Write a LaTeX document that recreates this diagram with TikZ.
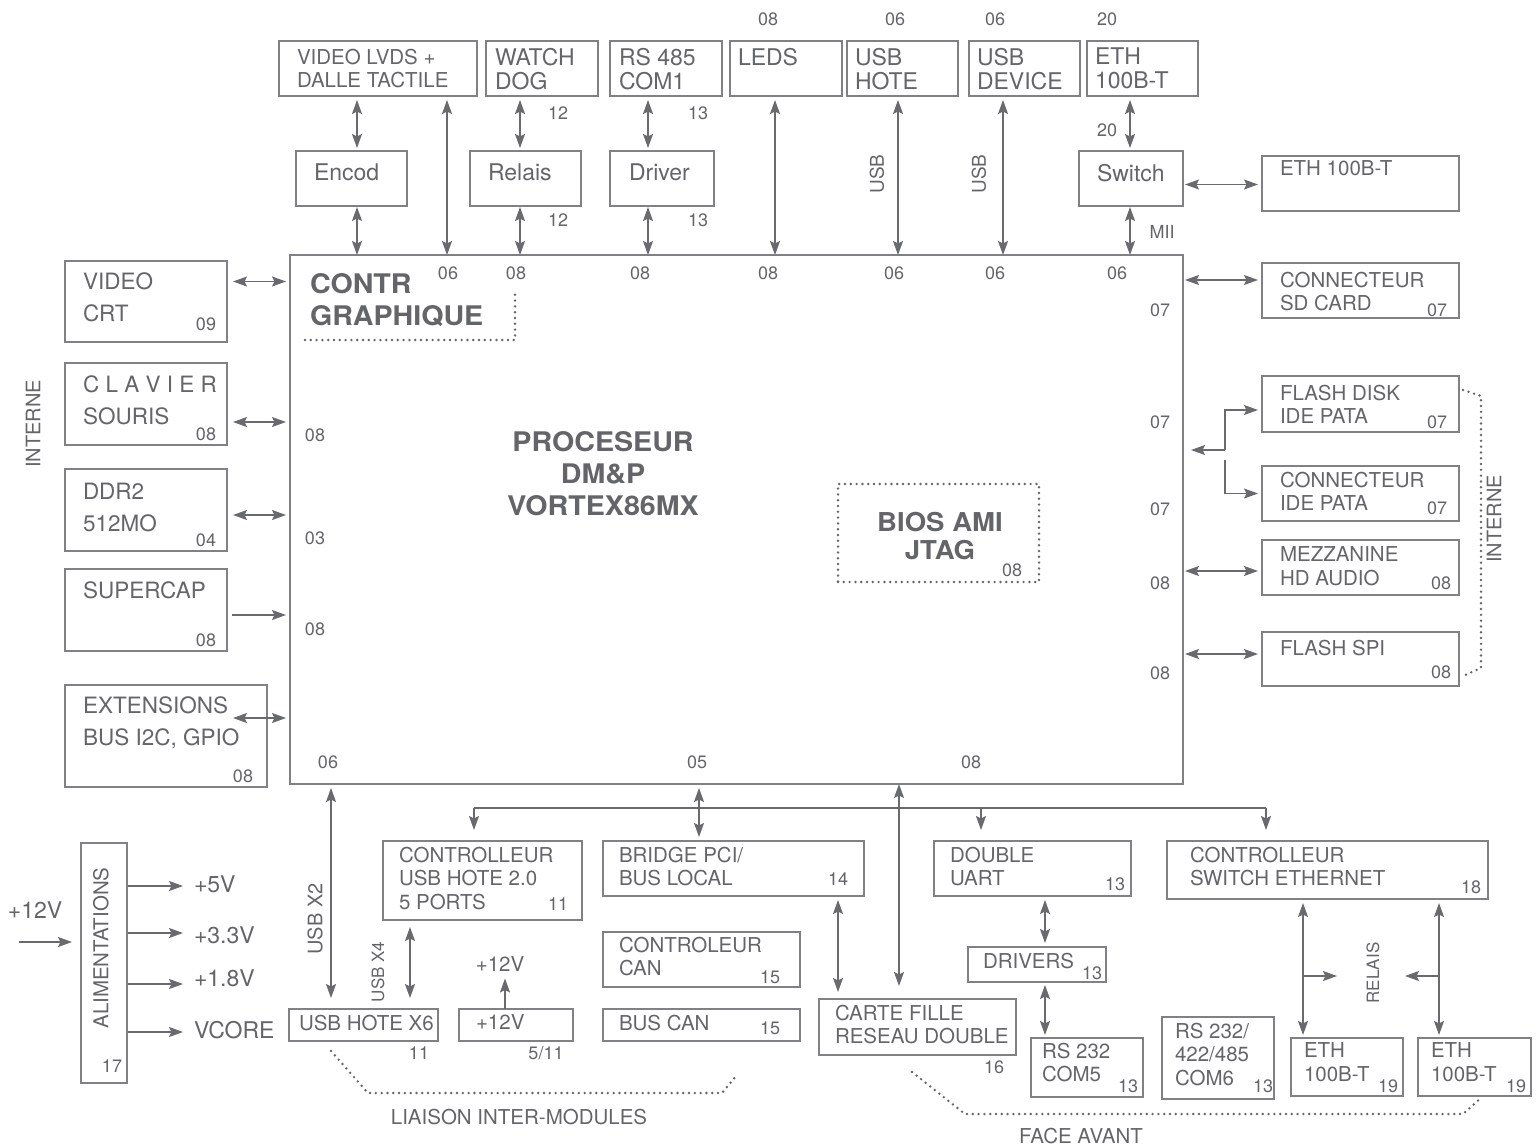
\documentclass[tikz,border=0pt]{standalone}
\usepackage{fontspec}
\setmainfont{TeX Gyre Heros}
\newfontfamily\bfont[FakeStretch=1.06]{TeX Gyre Heros}
\usetikzlibrary{arrows.meta,calc}
\definecolor{txtc}{RGB}{100,101,105}
\definecolor{boxc}{RGB}{128,129,133}
\definecolor{arrc}{RGB}{105,106,110}
\newcommand\bx[5]{\node[box,minimum width=#4pt,minimum height=#5pt] (#1) at (#2,#3) {};}
\begin{document}
\begin{tikzpicture}[x=1pt,y=-1pt,
  box/.style={draw=boxc,line width=1.3pt,inner sep=0pt,outer sep=0pt,anchor=north west},
  dbox/.style={draw=txtc,line width=2.7pt,line cap=round,dash pattern=on 0pt off 5.8pt,inner sep=0pt,outer sep=0pt,anchor=north west},
  lbl/.style={text=txtc,inner sep=0pt,outer sep=0pt,align=left,anchor=north west,font=\fontsize{20.5}{23.5}\selectfont},
  lbla/.style={lbl,font=\fontsize{23}{24}\selectfont},
  lblb/.style={lbl,font=\fontsize{22.5}{32}\selectfont},
  lblc/.style={text=txtc,inner sep=0pt,outer sep=0pt,font=\fontsize{23}{24}\selectfont},
  num/.style={text=txtc,inner sep=0pt,font=\fontsize{18}{20}\selectfont},
  vlbl/.style={text=txtc,inner sep=0pt,rotate=90,font=\fontsize{20}{22}\selectfont},
  big/.style={text=txtc,inner sep=0pt,outer sep=0pt,font=\bfont\bfseries\fontsize{27}{32}\selectfont},
  ln/.style={draw=arrc,line width=1.4pt},
  bi/.style={ln,{Stealth[length=14pt,width=10pt,inset=2.5pt]}-{Stealth[length=14pt,width=10pt,inset=2.5pt]}},
  one/.style={ln,-{Stealth[length=14pt,width=10pt,inset=2.5pt]}},
  dots/.style={draw=txtc,line width=2.7pt,line cap=round,dash pattern=on 0pt off 5.8pt},
]
\useasboundingbox (0,0) rectangle (1538,1146);

% ---------- boxes ----------
\bx{lvds}{279}{41}{198}{55}
\bx{wd}{486}{41}{112}{55}
\bx{rs}{610}{41}{112}{55}
\bx{leds}{730}{41}{112}{55}
\bx{usbh}{847}{41}{111}{55}
\bx{usbd}{969}{41}{111}{55}
\bx{eth}{1087}{41}{111}{55}
\bx{encod}{296}{151}{111}{55}
\bx{relais}{470}{151}{111}{55}
\bx{driver}{610}{151}{104}{55}
\bx{switch}{1079}{151}{104}{55}
\bx{ethr}{1262}{156}{197}{55}
\bx{sd}{1262}{263}{197}{55}
\bx{fdisk}{1262}{376}{197}{56}
\bx{ide}{1262}{466}{197}{55}
\bx{mezz}{1262}{540}{197}{55}
\bx{fspi}{1262}{632}{197}{54}
\bx{vcrt}{65}{261}{162}{81}
\bx{clav}{65}{363}{162}{82}
\bx{ddr}{65}{469}{162}{82}
\bx{scap}{65}{569}{162}{82}
\bx{ext}{65}{685}{202}{102}
\bx{cpu}{290}{255}{893}{529}
\bx{alim}{81}{843}{46}{240}
\bx{usbx}{289}{1009}{149}{32}
\bx{cusb}{383}{841}{199}{79}
\bx{p12}{459}{1009}{114}{32}
\bx{bridge}{603}{841}{261}{55}
\bx{ccan}{603}{932}{197}{55}
\bx{bcan}{603}{1009}{197}{32}
\bx{carte}{819}{999}{197}{56}
\bx{duart}{934}{841}{197}{55}
\bx{drv}{968}{947}{138}{35}
\bx{com5}{1031}{1038}{112}{59}
\bx{com6}{1162}{1017}{112}{82}
\bx{csw}{1167}{841}{321}{58}
\bx{ethA}{1291}{1038}{112}{58}
\bx{ethB}{1418}{1038}{113}{58}
\node[dbox,minimum width=201pt,minimum height=98pt] (bios) at (838,484) {};

% ---------- box texts ----------
\node[lbl] (t-lvds) at (297,49) {VIDEO LVDS +\\DALLE TACTILE};
\node[lbla] (t-wd) at (495,48) {WATCH\\DOG};
\node[lbla] (t-rs) at (619,48) {RS 485\\COM1};
\node[lbla] (t-leds) at (738,48) {LEDS};
\node[lbla] (t-usbh) at (855,48) {USB\\HOTE};
\node[lbla] (t-usbd) at (977,48) {USB\\DEVICE};
\node[lbla] (t-eth) at (1095,48) {ETH\\100B-T};
\node[lbla] (t-encod) at (314,164) {Encod};
\node[lbla] (t-relais) at (488,164) {Relais};
\node[lbla] (t-driver) at (629,164) {Driver};
\node[lbla] (t-switch) at (1097,164) {Switch};
\node[lbl] (t-ethr) at (1280,161) {ETH 100B-T};
\node[lbl] (t-sd) at (1280,272) {CONNECTEUR\\SD CARD};
\node[lbl] (t-fdisk) at (1280,385) {FLASH DISK\\IDE PATA};
\node[lbl] (t-ide) at (1280,472) {CONNECTEUR\\IDE PATA};
\node[lbl] (t-mezz) at (1280,547) {MEZZANINE\\HD AUDIO};
\node[lbl] (t-fspi) at (1280,640) {FLASH SPI};
\node[lblb] (t-vcrt) at (83,273) {VIDEO\\CRT};
\node[lblb] (t-clav) at (83,376) {C L A V I E R\\SOURIS};
\node[lblb] (t-ddr) at (83,483) {DDR2\\512MO};
\node[lblb] (t-scap) at (83,582) {SUPERCAP};
\node[lblb] (t-ext) at (83,697) {EXTENSIONS\\BUS I2C, GPIO};
\node[lbl] (t-cusb) at (399,847) {CONTROLLEUR\\USB HOTE 2.0\\5 PORTS};
\node[lbl] (t-bridge) at (619,847) {BRIDGE PCI/\\BUS LOCAL};
\node[lbl] (t-ccan) at (619,937) {CONTROLEUR\\CAN};
\node[lbl] (t-bcan) at (619,1015) {BUS CAN};
\node[lbl] (t-p12) at (476,1015) {+12V};
\node[lbl] (t-usbx) at (299,1015) {USB HOTE X6};
\node[lbl] (t-carte) at (835,1005) {CARTE FILLE\\RESEAU DOUBLE};
\node[lbl] (t-duart) at (950,847) {DOUBLE\\UART};
\node[lbl] (t-drv) at (983,953) {DRIVERS};
\node[lbl] (t-com5) at (1042,1043) {RS 232\\COM5};
\node[lbl] (t-com6) at (1175,1023) {RS 232/\\422/485\\COM6};
\node[lbl] (t-csw) at (1190,847) {CONTROLLEUR\\SWITCH ETHERNET};
\node[lbl] (t-ethA) at (1304,1043) {ETH\\100B-T};
\node[lbl] (t-ethB) at (1431,1043) {ETH\\100B-T};

% bold texts
\node[big,anchor=north west,align=left] (t-contr) at (310,273) {CONTR\\GRAPHIQUE};
\node[big,anchor=north,align=center] (t-proc) at (603,431) {PROCESEUR\\DM\&P\\VORTEX86MX};
\node[big,anchor=north,align=center,font=\bfont\bfseries\fontsize{26}{28}\selectfont] (t-bios) at (940,512) {BIOS AMI\\JTAG};

% ---------- numbers ----------
\node[num] (n1) at (768,19) {08};
\node[num] (n2) at (895,19) {06};
\node[num] (n3) at (995,19) {06};
\node[num] (n4) at (1107,19) {20};
\node[num] (n5) at (558,113) {12};
\node[num] (n6) at (558,220) {12};
\node[num] (n7) at (698,113) {13};
\node[num] (n8) at (698,220) {13};
\node[num] (n9) at (1107,130) {20};
\node[num] (n10) at (1162,232) {MII};
\node[num] (c1) at (448,273) {06};
\node[num] (c2) at (516,273) {08};
\node[num] (c3) at (640,273) {08};
\node[num] (c4) at (768,273) {08};
\node[num] (c5) at (894,273) {06};
\node[num] (c6) at (995,273) {06};
\node[num] (c7) at (1117,273) {06};
\node[num] (c8) at (1160,310) {07};
\node[num] (c9) at (1160,422) {07};
\node[num] (c10) at (1160,509) {07};
\node[num] (c11) at (1160,583) {08};
\node[num] (c12) at (1160,673) {08};
\node[num] (c13) at (315,435) {08};
\node[num] (c14) at (315,538) {03};
\node[num] (c15) at (315,629) {08};
\node[num] (c16) at (328,762) {06};
\node[num] (c17) at (697,762) {05};
\node[num] (c18) at (971,762) {08};
\node[num] (c19) at (1012,570) {08};
\node[num] (b1) at (1437,310) {07};
\node[num] (b2) at (1437,422) {07};
\node[num] (b3) at (1437,508) {07};
\node[num] (b4) at (1441,583) {08};
\node[num] (b5) at (1441,672) {08};
\node[num] (b6) at (206,324) {09};
\node[num] (b7) at (206,434) {08};
\node[num] (b8) at (206,540) {04};
\node[num] (b9) at (206,640) {08};
\node[num] (b10) at (243,776) {08};
\node[num] (b11) at (558,904) {11};
\node[num] (b12) at (838,879) {14};
\node[num] (b13) at (770,977) {15};
\node[num] (b14) at (770,1028) {15};
\node[num] (b15) at (419,1053) {11};
\node[num] (b16) at (546,1053) {5/11};
\node[num] (b17) at (994,1067) {16};
\node[num] (b18) at (1115,884) {13};
\node[num] (b19) at (1092,973) {13};
\node[num] (b20) at (1128,1086) {13};
\node[num] (b21) at (1263,1086) {13};
\node[num] (b22) at (1471,887) {18};
\node[num] (b23) at (1388,1086) {19};
\node[num] (b24) at (1516,1086) {19};
\node[num] (b25) at (112,1066) {17};

% ---------- rotated labels ----------
\node[vlbl] (r1) at (33,424) {INTERNE};
\node[vlbl] (r2) at (1494,519) {INTERNE};
\node[vlbl,font=\fontsize{19}{20}\selectfont] (r3) at (877,174) {USB};
\node[vlbl,font=\fontsize{19}{20}\selectfont] (r4) at (979,174) {USB};
\node[vlbl] (r5) at (315,919) {USB X2};
\node[vlbl,font=\fontsize{17}{18}\selectfont] (r6) at (378,972) {USB X4};
\node[vlbl,font=\fontsize{17}{18}\selectfont] (r7) at (1373,973) {RELAIS};
\node[vlbl,font=\fontsize{20.5}{22}\selectfont] (r8) at (101,948) {ALIMENTATIONS};

% free labels
\node[lblc] (in12) at (35,910) {+12V};
\node[lblc,anchor=west] (v5) at (194,884) {+5V};
\node[lblc,anchor=west] (v33) at (194,935) {+3.3V};
\node[lblc,anchor=west] (v18) at (194,978) {+1.8V};
\node[lblc,anchor=west] (vc) at (194,1030) {VCORE};
\node[lbl,anchor=center] (up12) at (500,964) {+12V};
\node[lbl,anchor=center] (liaison) at (519,1117) {LIAISON INTER-MODULES};
\node[lbl,anchor=center] (face) at (1081,1136) {FACE AVANT};

% ---------- x coordinates for vertical links ----------
\foreach \xx in {331,357,410,447,505,520,648,699,775,838,899,898,981,1003,1045,1130,1303,1439}
  \coordinate (c\xx) at (\xx,0);

% top
\draw[bi,shorten <=4pt,shorten >=3pt] (lvds.south -| c357) -- (encod.north -| c357);
\draw[bi,shorten <=1pt] (encod.south -| c357) -- (cpu.north -| c357);
\draw[bi,shorten <=4pt] (lvds.south -| c447) -- (cpu.north -| c447);
\draw[bi,shorten <=4pt,shorten >=3pt] (wd.south -| c520) -- (relais.north -| c520);
\draw[bi,shorten <=1pt] (relais.south -| c520) -- (cpu.north -| c520);
\draw[bi,shorten <=4pt,shorten >=3pt] (rs.south -| c648) -- (driver.north -| c648);
\draw[bi,shorten <=1pt] (driver.south -| c648) -- (cpu.north -| c648);
\draw[bi,shorten <=4pt] (leds.south -| c775) -- (cpu.north -| c775);
\draw[bi,shorten <=4pt] (usbh.south -| c898) -- (cpu.north -| c898);
\draw[bi,shorten <=4pt] (usbd.south -| c1003) -- (cpu.north -| c1003);
\draw[bi,shorten <=4pt,shorten >=3pt] (eth.south -| c1130) -- (switch.north -| c1130);
\draw[bi,shorten <=1pt] (switch.south -| c1130) -- (cpu.north -| c1130);

% right
\draw[bi,shorten <=2pt,shorten >=4pt] ([yshift=-6pt]switch.east) -- ([yshift=-6pt]switch.east -| ethr.west);
\draw[bi,shorten <=2pt,shorten >=4pt] ([yshift=10.5pt]sd.west -| cpu.east) -- ([yshift=10.5pt]sd.west);
\coordinate (ideJ) at (1225,450);
\coordinate (ideK) at (1225,460);
\draw[one,shorten >=8pt] (ideJ) -- (ideJ -| cpu.east);
\draw[one,shorten >=4pt] (ideJ) |- ([yshift=-6pt]fdisk.west);
\draw[one,shorten >=4pt] (ideK) |- (ide.west);
\draw[bi,shorten <=2pt,shorten >=4pt] ([yshift=-3.5pt]mezz.west -| cpu.east) -- ([yshift=-3.5pt]mezz.west);
\draw[bi,shorten <=2pt,shorten >=4pt] ([yshift=5pt]fspi.west -| cpu.east) -- ([yshift=5pt]fspi.west);

% left
\draw[bi,shorten <=6pt,shorten >=4pt] ([yshift=20pt]vcrt.east) -- ([yshift=20pt]vcrt.east -| cpu.west);
\draw[bi,shorten <=6pt,shorten >=4pt] ([yshift=-18pt]clav.east) -- ([yshift=-18pt]clav.east -| cpu.west);
\draw[bi,shorten <=6pt,shorten >=4pt] ([yshift=-5pt]ddr.east) -- ([yshift=-5pt]ddr.east -| cpu.west);
\draw[one,shorten <=5pt,shorten >=4pt] ([yshift=-5pt]scap.east) -- ([yshift=-5pt]scap.east -| cpu.west);
\draw[bi,shorten >=4pt] ([xshift=-34pt,yshift=18pt]ext.east) -- ([yshift=18pt]ext.east -| cpu.west);

% bottom
\draw[bi,shorten <=4pt,shorten >=11pt] (cpu.south -| c331) -- (usbx.north -| c331);
\draw[bi,shorten <=7pt,shorten >=11pt] (cusb.south -| c410) -- (usbx.north -| c410);
\draw[one,shorten >=7pt] (p12.north -| c505) -- (up12.south -| c505);
\draw[bi,shorten <=4pt,shorten >=4pt] (cpu.south -| c699) -- (bridge.north -| c699);
\draw[bi,shorten >=13pt] (cpu.south -| c899) -- (carte.north -| c899);
\draw[bi,shorten <=4pt,shorten >=7pt] (bridge.south -| c838) -- (carte.north -| c838);
\coordinate (busL) at (474,808);
\coordinate (busR) at (1266,808);
\draw[ln] (busL) -- (busR);
\draw[one,shorten >=11pt] (busL) -- (cusb.north -| busL);
\draw[one,shorten >=11pt] (busL -| c981) -- (duart.north -| c981);
\draw[one,shorten >=11pt] (busR) -- (csw.north -| busR);
\draw[bi,shorten <=4pt,shorten >=4pt] (duart.south -| c1045) -- (drv.north -| c1045);
\draw[bi,shorten <=3pt,shorten >=3pt] (drv.south -| c1045) -- (com5.north -| c1045);
\draw[bi,shorten <=4pt,shorten >=3pt] (csw.south -| c1303) -- (ethA.north -| c1303);
\draw[bi,shorten <=4pt,shorten >=3pt] (csw.south -| c1439) -- (ethB.north -| c1439);
\coordinate (rlA) at (1303,976);
\coordinate (rlB) at (1439,976);
\coordinate (rlA2) at (1337,976);
\coordinate (rlB2) at (1405,976);
\draw[one] (rlA) -- (rlA2);
\draw[one] (rlB) -- (rlB2);

% power
\coordinate (inS) at (19,942);
\draw[one,shorten >=9pt] (inS) -- (inS -| alim.west);
\draw[one,shorten <=1pt,shorten >=11pt] ([yshift=-2pt]alim.east |- v5.west) -- ([yshift=-2pt]v5.west);
\draw[one,shorten <=1pt,shorten >=11pt] ([yshift=2pt]alim.east |- v33.west) -- ([yshift=2pt]v33.west);
\draw[one,shorten <=1pt,shorten >=11pt] ([yshift=-6pt]alim.east |- v18.west) -- ([yshift=-6pt]v18.west);
\draw[one,shorten <=1pt,shorten >=11pt] ([yshift=-2pt]alim.east |- vc.west) -- ([yshift=-2pt]vc.west);

% dotted groupings
\draw[dots] (305,340) -- (515,340) -- (515,294);
\draw[dots] (1463,390) -- (1481,396) -- (1481,668) -- (1463,676);
\draw[dots] (331,1051) -- (368,1093) -- (722,1093) -- (736,1076);
\draw[dots] (912,1072) -- (965,1114) -- (1463,1114) -- (1482,1097);
\end{tikzpicture}
\end{document}
